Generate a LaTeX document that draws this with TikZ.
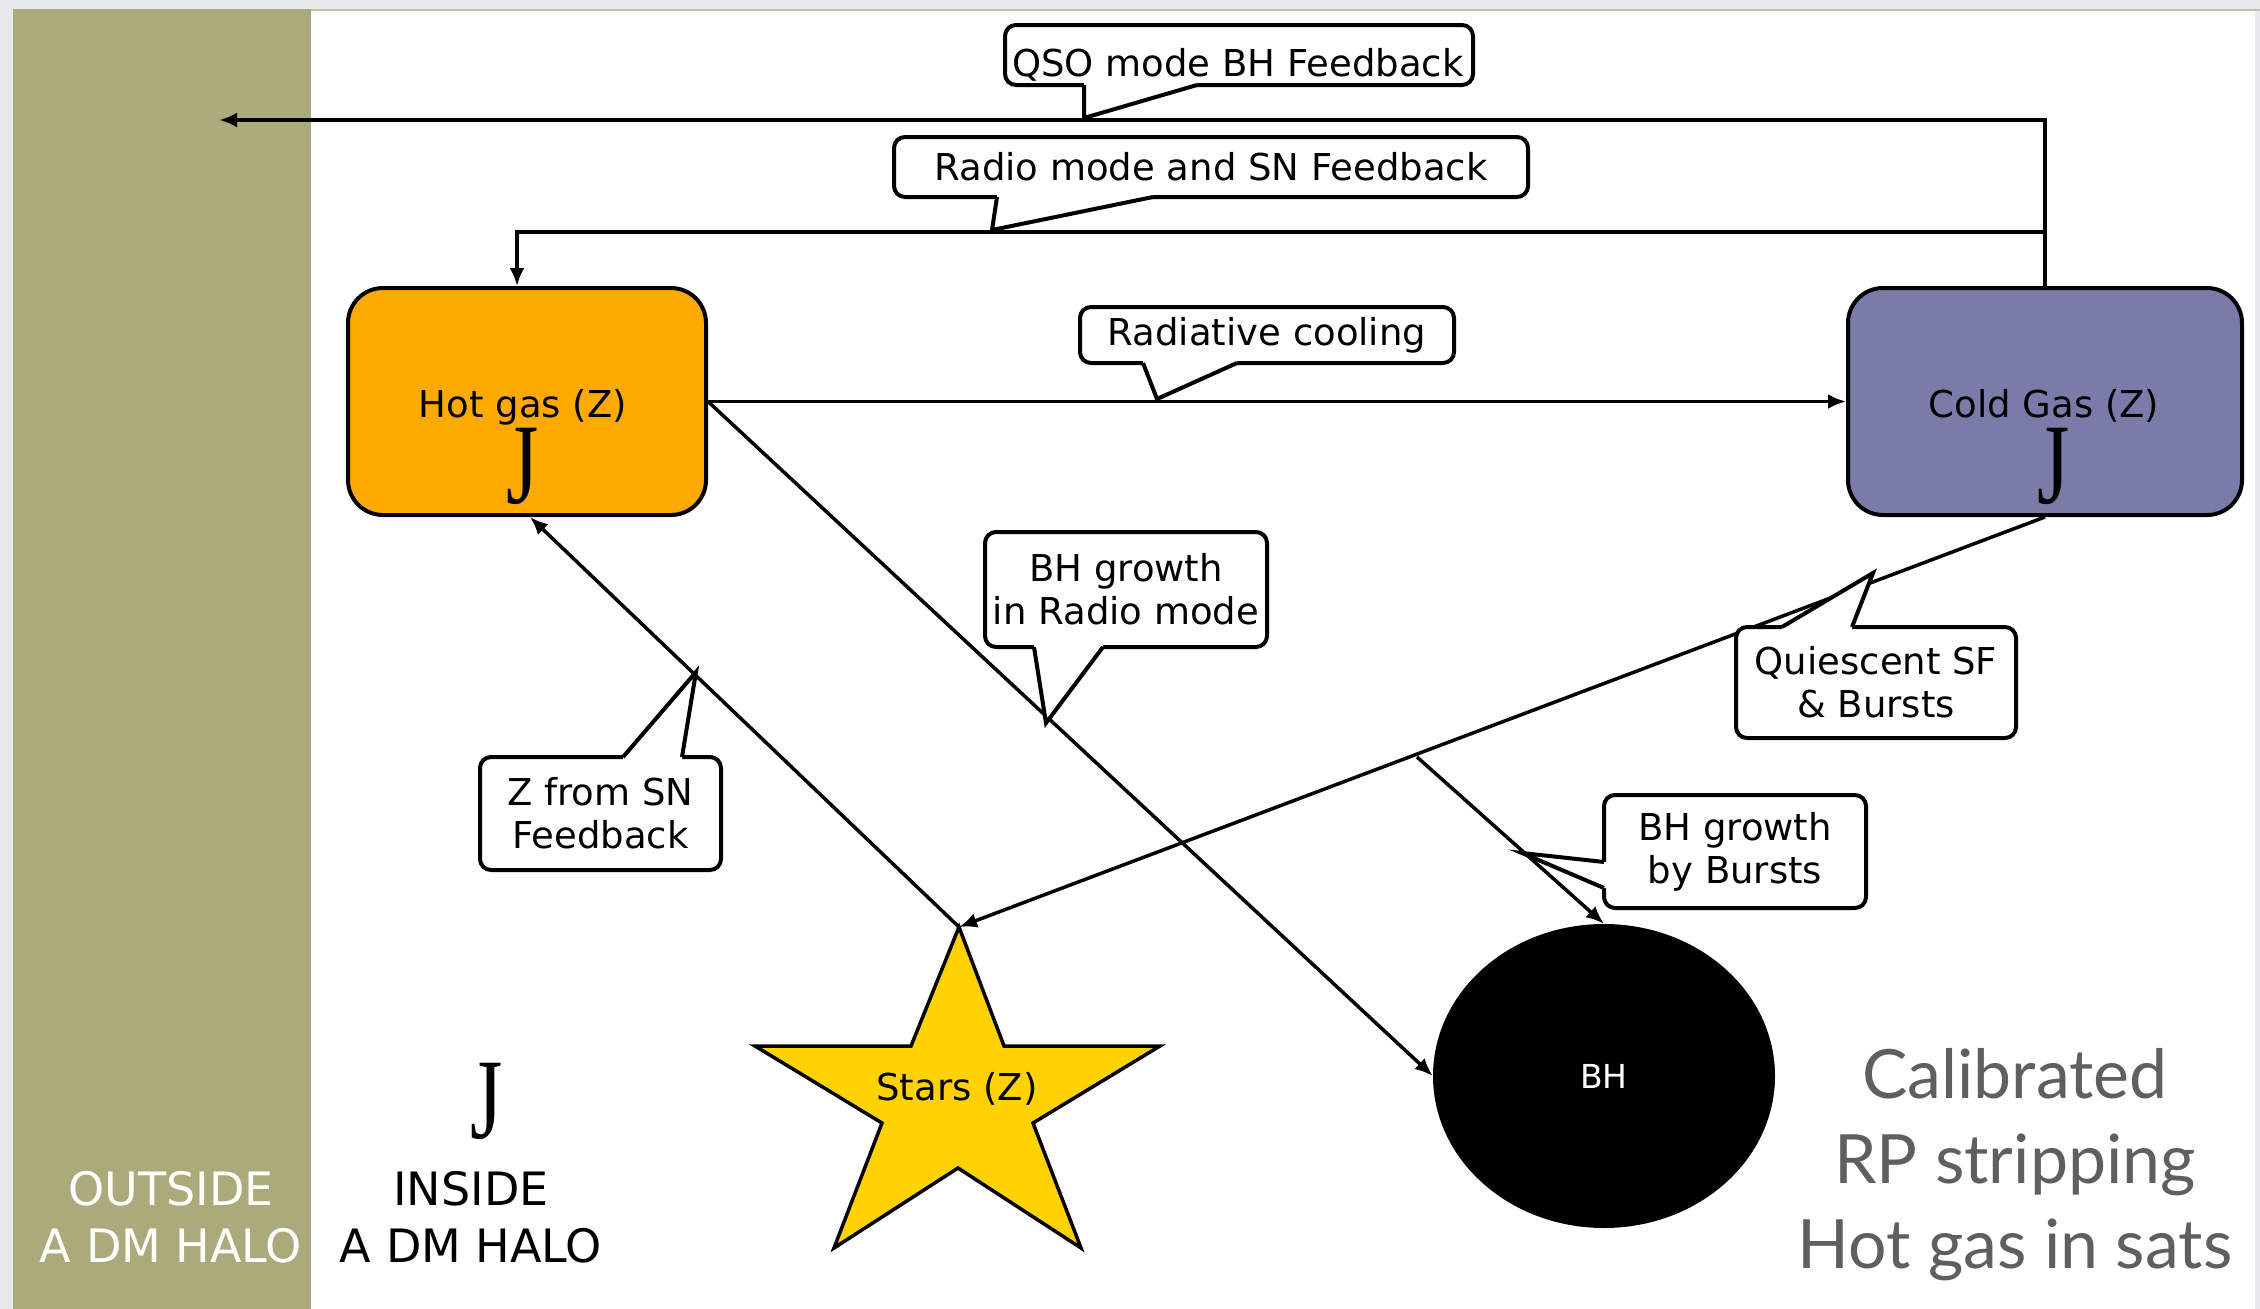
\documentclass[tikz,border=0pt]{standalone}
\usepackage{fontspec}
\setmainfont{DejaVu Sans}
\newfontfamily\jfont{Liberation Serif}
\newfontfamily\calfont{Lato}
\usetikzlibrary{arrows.meta,shapes.geometric,calc}
\definecolor{framec}{RGB}{230,232,236}
\definecolor{haloc}{RGB}{170,170,122}
\definecolor{hotc}{RGB}{255,170,0}
\definecolor{coldc}{RGB}{122,123,168}
\definecolor{starc}{RGB}{255,210,0}
\definecolor{calgray}{RGB}{95,95,95}
\newcommand\lblsize{\fontsize{37}{43}\selectfont}
\newcommand\narrowj{\scalebox{0.72}[1]{J}}
\newcommand\callptr[4]{%
  \fill[white] ($#1+#4$) -- #1 -- #3 -- #2 -- ($#2+#4$) -- cycle;
  \draw[ptrline] #1 -- #3 -- #2;}
\begin{document}
\begin{tikzpicture}[x=1pt,y=-1pt,
  arr/.style={line width=3.5pt,-{Latex[length=18pt,width=15pt]}},
  ptrline/.style={line width=4pt,line join=miter},
  gasbox/.style={draw,line width=4pt,rounded corners=35pt,inner sep=0pt,minimum width=358pt,minimum height=227pt},
  callbox/.style={draw,fill=white,line width=4pt,rounded corners=11pt,inner sep=0pt,align=center,font=\lblsize},
  lbl/.style={font=\lblsize,inner sep=0pt},
  bigj/.style={font=\jfont\fontsize{115}{120}\selectfont,inner sep=0pt,anchor=base},
  halotxt/.style={font=\fontsize{46}{57}\selectfont,inner sep=0pt,anchor=base},
  caltxt/.style={font=\calfont\fontsize{68}{85}\selectfont,text=calgray,inner sep=0pt,anchor=base}
]
\useasboundingbox (0,0) rectangle (2260,1309);
% background
\fill[framec] (0,0) rectangle (2260,1309);
\fill[haloc] (13,9) rectangle (311,1309);
\fill[white] (311,11) rectangle (2255,1309);
\fill[haloc!60!framec] (311,8.5) rectangle (2260,11);

% gas reservoirs
\node[gasbox,fill=hotc] (hot) at (527,401.5) {};
\node[gasbox,fill=coldc,minimum width=394pt] (cold) at (2045,401.5) {};
\node[lbl,anchor=base] (hottxt) at (523,417) {Hot gas (Z)};
\node[bigj] (hotj) at (523,503) {\narrowj};
\node[lbl,anchor=base] (coldtxt) at (2044,417) {Cold Gas (Z)};
\node[bigj] (coldj) at (2054,503) {\narrowj};

% star
\filldraw[fill=starc,line width=3.5pt,line join=miter]
  (959,927) -- (1004,1046) -- (1160,1046) -- (1033,1123) -- (1081,1248)
  -- (958,1168) -- (834,1248) -- (882,1123) -- (755,1046) -- (911,1046) -- cycle;
\coordinate (startop) at (959,927);
\node[lbl,anchor=base] (starstxt) at (957,1100) {Stars (Z)};

% black hole
\node[ellipse,fill=black,minimum width=342pt,minimum height=304pt,inner sep=0pt,
      text=white,font=\fontsize{33}{40}\selectfont] (bh) at (1604,1076) {BH};

% connectors
\coordinate (qsoend) at (219,120);
\draw[arr] (cold.north) |- (qsoend);
\coordinate (radiostart) at (2045,232);
\draw[arr] (radiostart) -| ([xshift=-10pt]hot.north);
\draw[arr] (hot.east) -- (cold.west);
\draw[arr] (hot.east) -- (bh.west);
\draw[arr] (startop) -- ([xshift=3pt]hot.south);
\draw[arr] (cold.south) -- (startop);
\coordinate (bstart) at (1417,757);
\draw[arr] (bstart) -- (bh.north);

% callouts
\node[callbox,minimum width=468pt,minimum height=60pt] (qso) at (1239,55) {};
\node[lbl,anchor=base] (qsotxt) at (1238,76) {QSO mode BH Feedback};
\callptr{(1084,85)}{(1197,85)}{(1084,118)}{(0,-4)}

\node[callbox,minimum width=634pt,minimum height=60pt] (radio) at (1211,167) {Radio mode and SN Feedback};
\callptr{(997,197)}{(1153,197)}{(992,230)}{(0,-4)}

\node[callbox,minimum width=374pt,minimum height=56pt] (cool) at (1267,335) {Radiative cooling};
\callptr{(1143,363)}{(1237,363)}{(1157,399)}{(0,-4)}

\node[callbox,minimum width=282pt,minimum height=115pt] (bhradio) at (1126,589.5) {BH growth\\in Radio mode};
\callptr{(1034,647)}{(1103,647)}{(1046,723)}{(0,-4)}

\node[callbox,minimum width=241pt,minimum height=113pt] (zsn) at (600.5,813.5) {Z from SN\\Feedback};
\callptr{(623,757)}{(682,757)}{(696,672)}{(0,4)}

\node[callbox,minimum width=280pt,minimum height=111pt] (quies) at (1876,682.5) {Quiescent SF\\\& Bursts};
\callptr{(1782,627)}{(1852,627)}{(1873,573)}{(0,4)}

\node[callbox,minimum width=262pt,minimum height=113pt] (bursts) at (1735,851.5) {BH growth\\by Bursts};
\callptr{(1604,862)}{(1604,888)}{(1522,853)}{(4,0)}

% halo labels
\node[halotxt,text=white] (out1) at (171,1205) {OUTSIDE};
\node[halotxt,text=white] (out2) at (171,1262) {A DM HALO};
\node[bigj] (insj) at (487,1138) {\narrowj};
\node[halotxt] (in1) at (471,1205) {INSIDE};
\node[halotxt] (in2) at (471,1262) {A DM HALO};

% calibrated note
\node[caltxt] (cal1) at (2015,1098) {Calibrated};
\node[caltxt] (cal2) at (2015,1183) {RP stripping};
\node[caltxt] (cal3) at (2015,1268) {Hot gas in sats};
\end{tikzpicture}
\end{document}
